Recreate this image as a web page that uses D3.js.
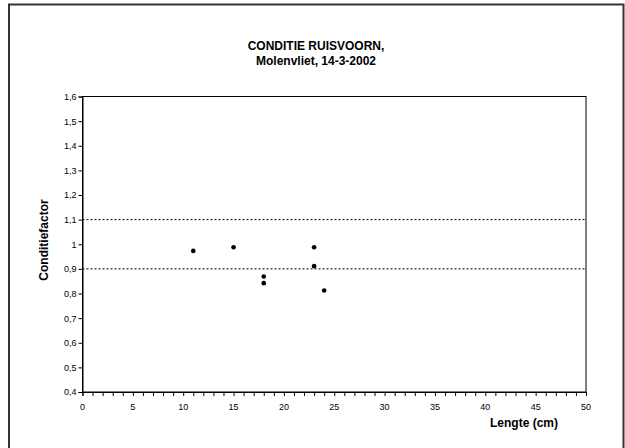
<!DOCTYPE html>
<html><head><meta charset="utf-8">
<script src="https://cdn.jsdelivr.net/npm/d3@7"></script>
<style>body{margin:0;background:#fff;font-family:Arial,"Liberation Sans",sans-serif}</style>
</head><body><svg id="c" width="625" height="448"></svg>
<script>
const lengths = [11, 15, 18, 18, 23, 23, 24];
const factors = [0.973, 0.988, 0.869, 0.842, 0.988, 0.911, 0.812];
const refLines = [1.1, 0.9];
const xTicks = [0,5,10,15,20,25,30,35,40,45,50];
const yTicks = [0.4,0.5,0.6,0.7,0.8,0.9,1.0,1.1,1.2,1.3,1.4,1.5,1.6];
const titleLines = ["CONDITIE RUISVOORN,", "Molenvliet, 14-3-2002"];

const svg = d3.select("#c");
const L = 82.5, R = 586, T = 96.5, B = 392;
const x = d3.scaleLinear().domain([0,50]).range([L,R]);
const y = d3.scaleLinear().domain([0.4,1.6]).range([B,T]);
const fmt = v => (Math.round(v*10)/10).toString().replace(".", ",");

svg.append("rect").attr("x",9).attr("y",4.5).attr("width",614.5).attr("height",460)
  .attr("fill","#fff").attr("stroke","#333").attr("stroke-width",2);

svg.append("rect").attr("x",L).attr("y",T).attr("width",R-L).attr("height",B-T)
  .attr("fill","none").attr("stroke","#000").attr("stroke-width",1);

// x axis
const xa = svg.append("g").attr("transform",`translate(0,${B})`)
  .call(d3.axisBottom(x).tickValues(d3.range(0,51,1)).tickSize(4).tickFormat(""));
xa.select(".domain").attr("stroke","#000");
xa.selectAll(".tick line").attr("stroke","#000");
svg.append("g").selectAll("text").data(xTicks).join("text")
  .attr("x",d=>x(d)).attr("y",B+18).attr("text-anchor","middle")
  .attr("font-size",9).attr("fill","#000").text(d=>d);

// y axis
const ya = svg.append("g").attr("transform",`translate(${L},0)`)
  .call(d3.axisLeft(y).tickValues(yTicks).tickSize(4).tickFormat(fmt));
ya.select(".domain").attr("stroke","#000");
ya.selectAll(".tick line").attr("stroke","#000");
ya.selectAll(".tick text").attr("font-size",9).attr("font-family","Arial, Liberation Sans, sans-serif").attr("fill","#000").attr("x",-6);

// reference lines
svg.append("g").selectAll("line").data(refLines).join("line")
  .attr("x1",L).attr("x2",R).attr("y1",d=>y(d)).attr("y2",d=>y(d))
  .attr("stroke","#000").attr("stroke-width",1).attr("stroke-dasharray","2,2");

// points
svg.append("g").selectAll("circle").data(lengths).join("circle")
  .attr("cx",(d)=>x(d)).attr("cy",(d,i)=>y(factors[i])).attr("r",2.3).attr("fill","#000");

// titles
svg.append("g").selectAll("text").data(titleLines).join("text")
  .attr("x",316).attr("y",(d,i)=>50+i*15).attr("text-anchor","middle")
  .attr("font-size",12).attr("font-weight","bold").attr("fill","#000").text(d=>d);

svg.append("text").attr("transform",`translate(48,240) rotate(-90)`)
  .attr("text-anchor","middle").attr("font-size",12).attr("font-weight","bold").text("Conditiefactor");

svg.append("text").attr("x",524).attr("y",427).attr("text-anchor","middle")
  .attr("font-size",12).attr("font-weight","bold").text("Lengte (cm)");
</script></body></html>
